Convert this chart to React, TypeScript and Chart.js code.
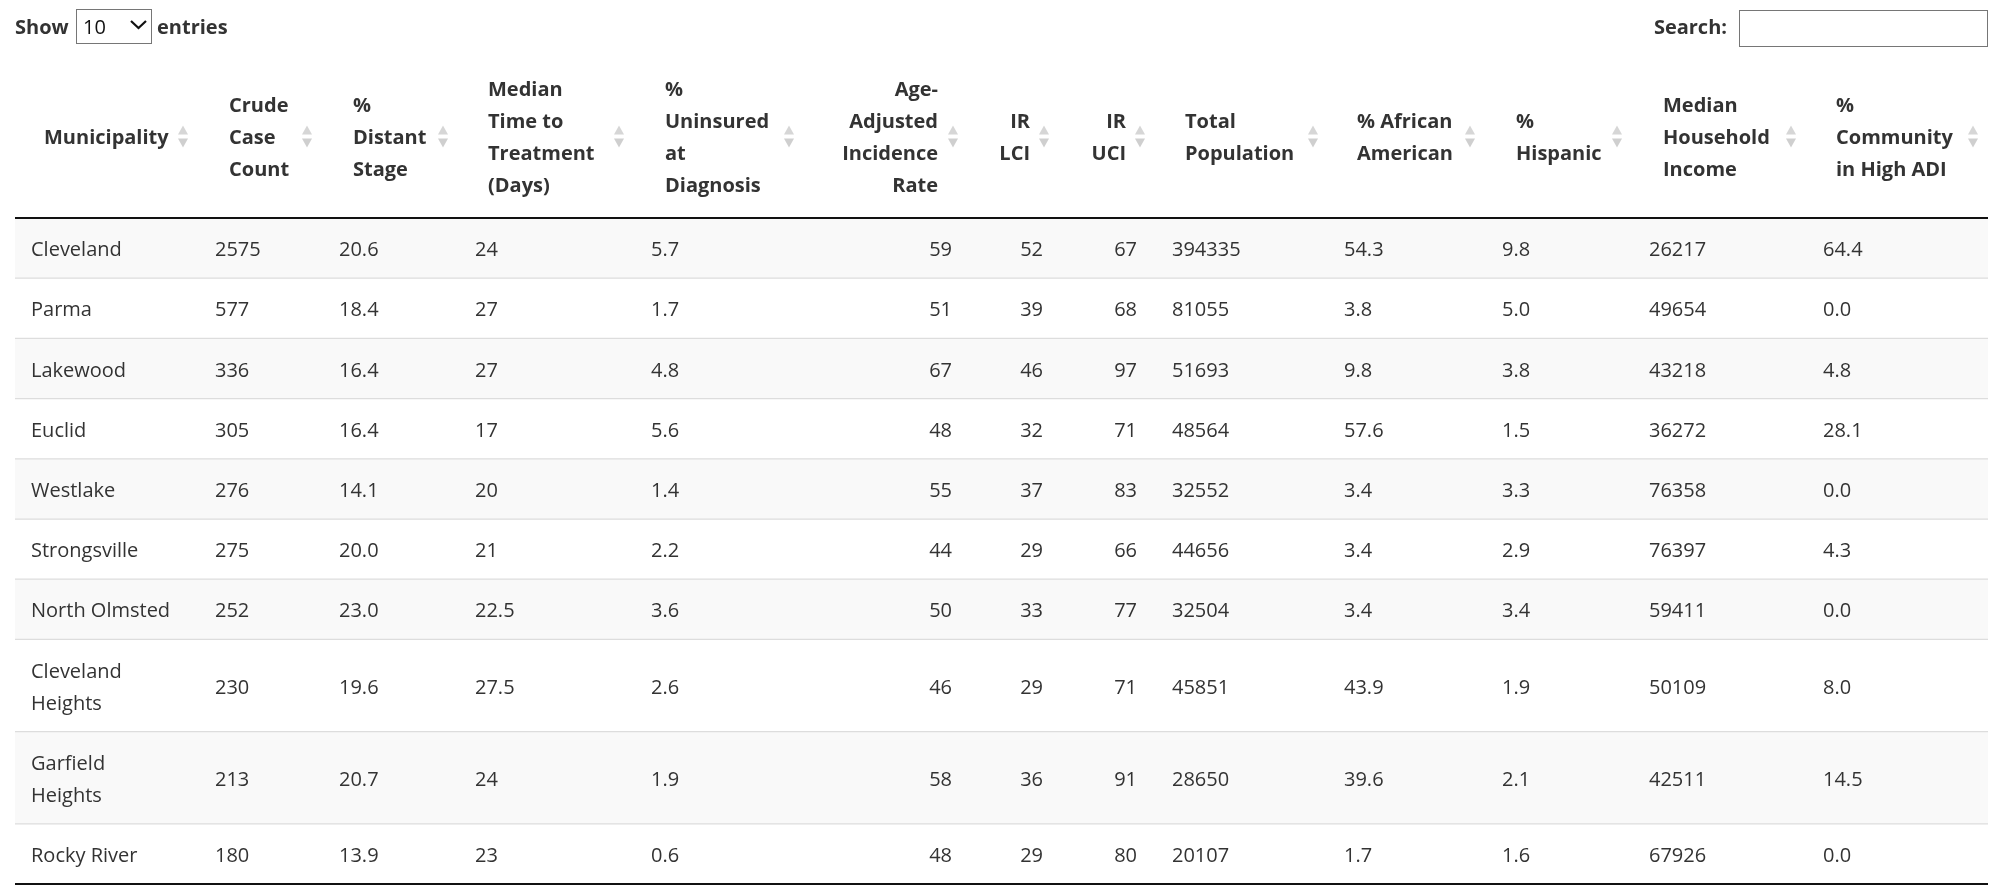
import React, { useEffect, useRef } from "react";
import { Chart, registerables } from "chart.js";

Chart.register(...registerables);

// ---------------- DATA ----------------
const municipalities = [
  "Cleveland", "Parma", "Lakewood", "Euclid", "Westlake",
  "Strongsville", "North Olmsted", "Cleveland Heights", "Garfield Heights", "Rocky River",
];
const crudeCaseCount = [2575, 577, 336, 305, 276, 275, 252, 230, 213, 180];
const pctDistantStage = [20.6, 18.4, 16.4, 16.4, 14.1, 20.0, 23.0, 19.6, 20.7, 13.9];
const medianDaysToTreatment = [24, 27, 27, 17, 20, 21, 22.5, 27.5, 24, 23];
const pctUninsured = [5.7, 1.7, 4.8, 5.6, 1.4, 2.2, 3.6, 2.6, 1.9, 0.6];
const ageAdjustedRate = [59, 51, 67, 48, 55, 44, 50, 46, 58, 48];
const irLCI = [52, 39, 46, 32, 37, 29, 33, 29, 36, 29];
const irUCI = [67, 68, 97, 71, 83, 66, 77, 71, 91, 80];
const totalPopulation = [394335, 81055, 51693, 48564, 32552, 44656, 32504, 45851, 28650, 20107];
const pctAfricanAmerican = [54.3, 3.8, 9.8, 57.6, 3.4, 3.4, 3.4, 43.9, 39.6, 1.7];
const pctHispanic = [9.8, 5.0, 3.8, 1.5, 3.3, 2.9, 3.4, 1.9, 2.1, 1.6];
const medianHouseholdIncome = [26217, 49654, 43218, 36272, 76358, 76397, 59411, 50109, 42511, 67926];
const pctHighADI = [64.4, 0.0, 4.8, 28.1, 0.0, 4.3, 0.0, 8.0, 14.5, 0.0];

const headerLabels: string[][] = [
  ["Municipality"],
  ["Crude", "Case", "Count"],
  ["%", "Distant", "Stage"],
  ["Median", "Time to", "Treatment", "(Days)"],
  ["%", "Uninsured", "at", "Diagnosis"],
  ["Age-", "Adjusted", "Incidence", "Rate"],
  ["IR", "LCI"],
  ["IR", "UCI"],
  ["Total", "Population"],
  ["% African", "American"],
  ["%", "Hispanic"],
  ["Median", "Household", "Income"],
  ["%", "Community", "in High ADI"],
];

const pageLengthLabel = "10";

// ---------------- LAYOUT / STYLE ----------------
const W = 2000;
const H = 894;
const FONT = '"Open Sans", "Noto Sans", sans-serif';
const TEXT = "#333333";
const TEXT_DY = 2.3; // glyph centring correction for the substitute font

type ColLayout = { align: "left" | "right"; body: number; head: number; icon: number; fmt: (v: any) => string };
const f1 = (v: number) => v.toFixed(1);
const plain = (v: any) => String(v);
const COLS: ColLayout[] = [
  { align: "left", body: 31, head: 44, icon: 183, fmt: plain },
  { align: "left", body: 215, head: 229, icon: 307, fmt: plain },
  { align: "left", body: 339, head: 353, icon: 443, fmt: f1 },
  { align: "left", body: 475, head: 488, icon: 619, fmt: plain },
  { align: "left", body: 651, head: 665, icon: 789, fmt: f1 },
  { align: "right", body: 952, head: 938, icon: 953, fmt: plain },
  { align: "right", body: 1043, head: 1030, icon: 1044, fmt: plain },
  { align: "right", body: 1137, head: 1126, icon: 1140, fmt: plain },
  { align: "left", body: 1172, head: 1185, icon: 1313, fmt: plain },
  { align: "left", body: 1344, head: 1357, icon: 1470, fmt: f1 },
  { align: "left", body: 1502, head: 1516, icon: 1617, fmt: f1 },
  { align: "left", body: 1649, head: 1663, icon: 1791, fmt: plain },
  { align: "left", body: 1823, head: 1836, icon: 1973, fmt: f1 },
];

const TABLE_LEFT = 15;
const TABLE_RIGHT = 1988;
const HEAD_LINE_Y = 218;
const HEAD_CENTER = 136.5;
const HEAD_LINE_H = 32;
const ROW_PAD = 14.1;
const LINE_H = 32;
const NAME_MAX_W = 145;

function wrapText(ctx: CanvasRenderingContext2D, text: string, maxW: number): string[] {
  const words = text.split(" ");
  const lines: string[] = [];
  let cur = "";
  for (const w of words) {
    const t = cur ? cur + " " + w : w;
    if (cur && ctx.measureText(t).width > maxW) {
      lines.push(cur);
      cur = w;
    } else cur = t;
  }
  if (cur) lines.push(cur);
  return lines;
}

const tablePlugin = {
  id: "dataTableDraw",
  beforeDraw(chart: any) {
    const { ctx } = chart;
    ctx.save();
    ctx.fillStyle = "#ffffff";
    ctx.fillRect(0, 0, chart.width, chart.height);
    ctx.restore();
  },
  afterDraw(chart: any) {
    const { ctx } = chart;
    const xs = chart.scales.x;
    const ys = chart.scales.y;
    const px = (v: number) => xs.getPixelForValue(v);
    const py = (v: number) => ys.getPixelForValue(v);
    ctx.save();
    ctx.textBaseline = "middle";

    // ----- top controls -----
    const cy = 27 + 1.5;
    ctx.fillStyle = TEXT;
    ctx.font = `bold 20px ${FONT}`;
    ctx.textAlign = "left";
    ctx.fillText("Show", px(15), py(cy));
    ctx.strokeStyle = "#767676";
    ctx.lineWidth = 1;
    ctx.strokeRect(px(76) + 0.5, py(9) + 0.5, 75, 34);
    ctx.font = `20px ${FONT}`;
    ctx.fillStyle = "#111";
    ctx.fillText(pageLengthLabel, px(83), py(cy));
    ctx.beginPath();
    ctx.moveTo(px(131), py(21));
    ctx.lineTo(px(138.5), py(28));
    ctx.lineTo(px(146), py(21));
    ctx.lineWidth = 2.2;
    ctx.strokeStyle = "#111";
    ctx.stroke();
    ctx.fillStyle = TEXT;
    ctx.font = `bold 20px ${FONT}`;
    ctx.fillText("entries", px(157), py(cy));
    ctx.textAlign = "right";
    ctx.fillText("Search:", px(1727), py(cy));
    ctx.strokeStyle = "#767676";
    ctx.lineWidth = 1;
    ctx.strokeRect(px(1739) + 0.5, py(10) + 0.5, 248, 36);

    // ----- body rows -----
    ctx.font = `20px ${FONT}`;
    const rowLines = municipalities.map((m) => wrapText(ctx, m, NAME_MAX_W));
    const columns: any[][] = [
      municipalities, crudeCaseCount, pctDistantStage, medianDaysToTreatment, pctUninsured,
      ageAdjustedRate, irLCI, irUCI, totalPopulation, pctAfricanAmerican, pctHispanic,
      medianHouseholdIncome, pctHighADI,
    ];
    let top = HEAD_LINE_Y;
    const rowTops: number[] = [];
    const rowHeights: number[] = [];
    rowLines.forEach((lines) => {
      const h = 2 * ROW_PAD + lines.length * LINE_H;
      rowTops.push(top);
      rowHeights.push(h);
      top += h;
    });
    const bottom = top;

    // backgrounds
    rowTops.forEach((t, i) => {
      if (i % 2 === 0) {
        ctx.fillStyle = "#f9f9f9";
        ctx.fillRect(px(TABLE_LEFT), py(t), px(TABLE_RIGHT) - px(TABLE_LEFT), py(t + rowHeights[i]) - py(t));
      }
    });
    // separators
    ctx.strokeStyle = "#dddddd";
    ctx.lineWidth = 1.25;
    rowTops.forEach((t, i) => {
      if (i === 0) return;
      ctx.beginPath();
      ctx.moveTo(px(TABLE_LEFT), py(t));
      ctx.lineTo(px(TABLE_RIGHT), py(t));
      ctx.stroke();
    });
    // thick lines
    ctx.strokeStyle = "#111111";
    ctx.lineWidth = 1.8;
    [HEAD_LINE_Y, bottom].forEach((yy) => {
      ctx.beginPath();
      ctx.moveTo(px(TABLE_LEFT), py(yy));
      ctx.lineTo(px(TABLE_RIGHT), py(yy));
      ctx.stroke();
    });

    // cell text
    ctx.fillStyle = TEXT;
    ctx.font = `20px ${FONT}`;
    rowTops.forEach((t, r) => {
      const rc = t + rowHeights[r] / 2 + TEXT_DY;
      COLS.forEach((c, ci) => {
        ctx.textAlign = c.align;
        const lines = ci === 0 ? rowLines[r] : [c.fmt(columns[ci][r])];
        lines.forEach((ln, li) => {
          const yy = rc + (li - (lines.length - 1) / 2) * LINE_H;
          ctx.fillText(ln, px(c.body), py(yy));
        });
      });
    });

    // ----- header -----
    ctx.font = `bold 20px ${FONT}`;
    ctx.fillStyle = TEXT;
    headerLabels.forEach((lines, ci) => {
      const c = COLS[ci];
      ctx.textAlign = c.align;
      lines.forEach((ln, li) => {
        const yy = HEAD_CENTER + 1.8 + (li - (lines.length - 1) / 2) * HEAD_LINE_H;
        ctx.fillText(ln, px(c.head), py(yy));
      });
      // sort icon
      const ix = px(c.icon);
      const iy = py(HEAD_CENTER);
      ctx.fillStyle = "#d6d6d6";
      ctx.beginPath();
      ctx.moveTo(ix - 5, iy - 2);
      ctx.lineTo(ix + 5, iy - 2);
      ctx.lineTo(ix, iy - 11);
      ctx.closePath();
      ctx.fill();
      ctx.fillStyle = "#cfcfcf";
      ctx.beginPath();
      ctx.moveTo(ix - 5, iy + 2);
      ctx.lineTo(ix + 5, iy + 2);
      ctx.lineTo(ix, iy + 11);
      ctx.closePath();
      ctx.fill();
      ctx.fillStyle = TEXT;
    });

    ctx.restore();
  },
};

export default function App() {
  const ref = useRef<HTMLCanvasElement | null>(null);
  useEffect(() => {
    if (!ref.current) return;
    const chart = new Chart(ref.current, {
      type: "scatter",
      data: { datasets: [{ data: [] }] },
      options: {
        animation: false,
        responsive: false,
        devicePixelRatio: 1,
        layout: { padding: 0 },
        events: [],
        plugins: { legend: { display: false }, tooltip: { enabled: false } },
        scales: {
          x: { type: "linear", display: false, min: 0, max: W },
          y: { type: "linear", display: false, min: 0, max: H, reverse: true },
        },
      },
      plugins: [tablePlugin],
    });
    return () => chart.destroy();
  }, []);
  return (
    <div style={{ position: "fixed", left: 0, top: 0, width: W, height: H, background: "#fff" }}>
      <canvas ref={ref} width={W} height={H} style={{ display: "block", width: W, height: H }} />
    </div>
  );
}
